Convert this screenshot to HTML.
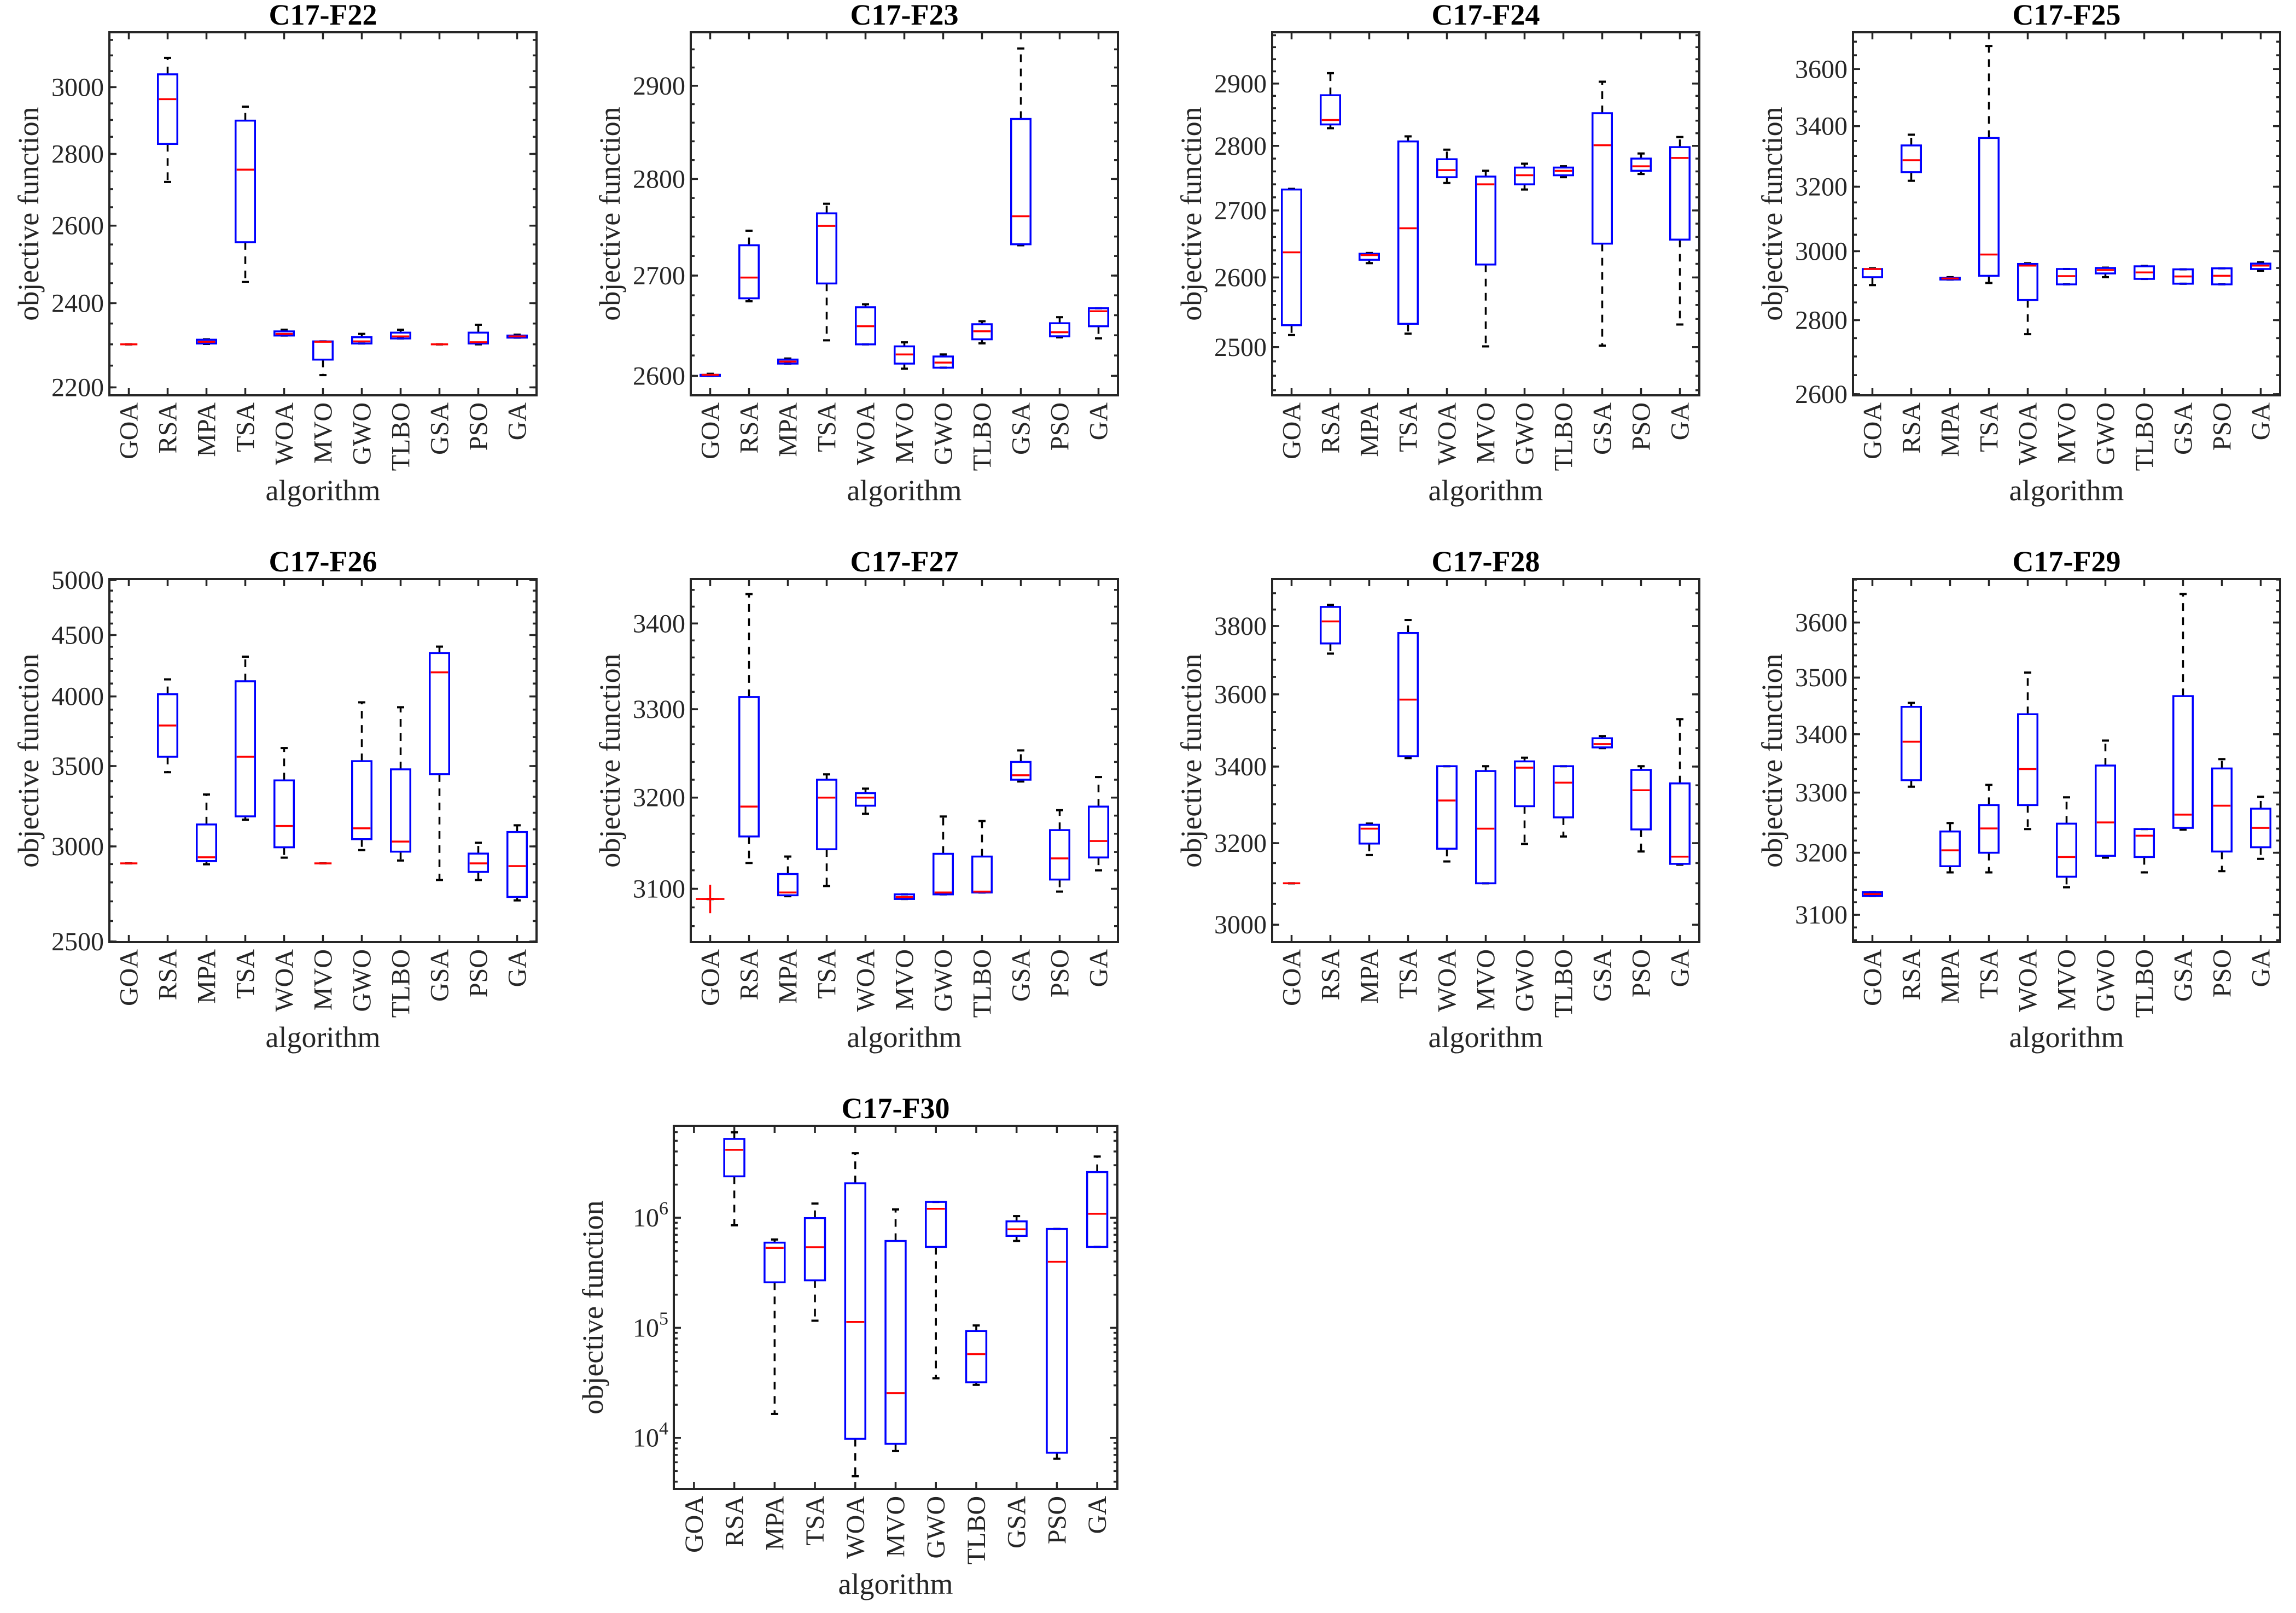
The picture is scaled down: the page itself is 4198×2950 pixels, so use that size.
<!DOCTYPE html>
<html><head><meta charset="utf-8">
<style>
html,body{margin:0;padding:0;background:#fff;}
svg{display:block;}
text{font-family:"Liberation Serif","Times New Roman",serif;}
</style></head>
<body>
<svg id="fig" xmlns="http://www.w3.org/2000/svg" width="4198" height="2950" viewBox="0 0 4198 2950"></svg>
<script>
const algorithms = ["GOA","RSA","MPA","TSA","WOA","MVO","GWO","TLBO","GSA","PSO","GA"];

const f22Min = [2300,2720,2301,2453,2321,2228,2302,2314,2300,2300,2316];
const f22Q1  = [2300,2829,2302,2556,2321,2264,2302,2314,2300,2302,2316];
const f22Med = [2300,2963,2306,2755,2325,2306,2307,2319,2300,2305,2319];
const f22Q3  = [2300,3040,2311,2898,2331,2307,2317,2328,2300,2328,2321];
const f22Max = [2300,3092,2312,2940,2335,2307,2325,2335,2300,2347,2323];
const f22Ticks = [2200,2400,2600,2800,3000];

const f23Min = [2600,2674,2612,2635,2631,2607,2608,2632,2731,2638,2637];
const f23Q1  = [2600,2677,2612,2692,2631,2612,2608,2636,2732,2639,2649];
const f23Med = [2601,2698,2614,2751,2649,2621,2613,2644,2761,2643,2664];
const f23Q3  = [2601,2731,2616,2764,2668,2629,2619,2651,2864,2652,2667];
const f23Max = [2602,2746,2617,2774,2671,2633,2621,2654,2941,2658,2667];
const f23Ticks = [2600,2700,2800,2900];

const f24Min = [2517,2828,2621,2519,2742,2501,2732,2751,2502,2756,2532];
const f24Q1  = [2531,2834,2626,2533,2751,2619,2740,2754,2650,2761,2656];
const f24Med = [2637,2841,2633,2673,2762,2740,2754,2761,2801,2768,2781];
const f24Q3  = [2732,2881,2635,2807,2779,2752,2766,2766,2852,2780,2798];
const f24Max = [2733,2917,2636,2815,2794,2761,2772,2768,2903,2788,2814];
const f24Ticks = [2500,2600,2700,2800,2900];

const f25Min = [2900,3219,2916,2906,2761,2902,2923,2918,2904,2902,2942];
const f25Q1  = [2923,3247,2916,2927,2857,2902,2934,2918,2904,2902,2947];
const f25Med = [2947,3286,2919,2990,2957,2926,2944,2937,2925,2927,2957];
const f25Q3  = [2947,3335,2921,3360,2962,2947,2950,2955,2946,2949,2963];
const f25Max = [2949,3371,2923,3684,2964,2947,2951,2956,2946,2949,2967];
const f25Ticks = [2600,2800,3000,3200,3400,3600];

const f26Min = [2904,3459,2899,3158,2936,2904,2979,2920,2813,2813,2705];
const f26Q1  = [2904,3563,2917,3178,2995,2904,3042,2970,3446,2857,2723];
const f26Med = [2904,3783,2938,3563,3120,2904,3106,3028,4189,2904,2889];
const f26Q3  = [2904,4017,3129,4118,3405,2904,3533,3478,4347,2959,3084];
const f26Max = [2904,4133,3314,4317,3623,2904,3955,3918,4401,3021,3124];
const f26Ticks = [2500,3000,3500,4000,4500,5000];

const f27Min = [3089,3128,3092,3103,3182,3089,3094,3096,3218,3097,3120];
const f27Q1  = [3089,3157,3093,3143,3191,3089,3094,3096,3220,3110,3134];
const f27Med = [3089,3190,3096,3200,3200,3091,3096,3097,3225,3133,3152];
const f27Q3  = [3089,3314,3116,3220,3205,3094,3138,3135,3240,3164,3190];
const f27Max = [3089,3435,3135,3226,3210,3094,3179,3174,3253,3186,3223];
const f27Outliers = [[0,3089]];
const f27Ticks = [3100,3200,3300,3400];

const f28Min = [3100,3718,3170,3423,3154,3100,3198,3217,3450,3179,3146];
const f28Q1  = [3100,3748,3199,3428,3186,3100,3295,3266,3452,3235,3148];
const f28Med = [3100,3814,3237,3585,3310,3237,3397,3357,3461,3337,3166];
const f28Q3  = [3100,3858,3247,3779,3401,3388,3414,3401,3477,3391,3355];
const f28Max = [3100,3864,3250,3818,3401,3401,3424,3401,3483,3401,3530];
const f28Ticks = [3000,3200,3400,3600,3800];

const f29Min = [3130,3310,3168,3168,3239,3144,3192,3168,3238,3170,3190];
const f29Q1  = [3130,3321,3178,3200,3279,3161,3195,3193,3241,3202,3209];
const f29Med = [3133,3387,3204,3240,3340,3193,3250,3228,3263,3278,3241];
const f29Q3  = [3136,3448,3235,3279,3435,3248,3346,3239,3467,3341,3273];
const f29Max = [3136,3455,3249,3313,3509,3292,3389,3239,3653,3357,3293];
const f29Ticks = [3100,3200,3300,3400,3500,3600];

const f30Min = [3440,853000,16500,116000,4480,7590,34800,30300,615000,6470,543000];
const f30Q1  = [3440,2377000,259000,270000,9800,8830,543000,32000,684000,7330,543000];
const f30Med = [3440,4140000,532000,540000,113000,25500,1205000,57700,785000,398000,1086000];
const f30Q3  = [3440,5200000,594000,993000,2056000,615000,1393000,93500,927000,791000,2600000];
const f30Max = [3440,5970000,634000,1345000,3855000,1190000,1393000,105000,1035000,791000,3597000];
const f30Ticks = [10000,100000,1000000];

const NS = "http://www.w3.org/2000/svg";
const svg = document.getElementById("fig");
function mk(tag, attrs, parent) {
  const e = document.createElementNS(NS, tag);
  for (const k in attrs) e.setAttribute(k, attrs[k]);
  (parent || svg).appendChild(e);
  return e;
}

const panels = [
  {id:"f22", title:"C17-F22", x0:200, y0:59, w:781, lo:2182, hi:3175, minor:50, ticks:f22Ticks, mn:f22Min,q1:f22Q1,md:f22Med,q3:f22Q3,mx:f22Max},
  {id:"f23", title:"C17-F23", x0:1263, y0:59, w:781, lo:2581, hi:2959, minor:20, ticks:f23Ticks, mn:f23Min,q1:f23Q1,md:f23Med,q3:f23Q3,mx:f23Max},
  {id:"f24", title:"C17-F24", x0:2326, y0:59, w:781, lo:2433, hi:2985, minor:20, ticks:f24Ticks, mn:f24Min,q1:f24Q1,md:f24Med,q3:f24Q3,mx:f24Max},
  {id:"f25", title:"C17-F25", x0:3388, y0:59, w:781, lo:2597, hi:3735, minor:50, ticks:f25Ticks, mn:f25Min,q1:f25Q1,md:f25Med,q3:f25Q3,mx:f25Max},
  {id:"f26", title:"C17-F26", x0:200, y0:1059, w:781, lo:2497, hi:5010, minor:100, ticks:f26Ticks, mn:f26Min,q1:f26Q1,md:f26Med,q3:f26Q3,mx:f26Max},
  {id:"f27", title:"C17-F27", x0:1263, y0:1059, w:781, lo:3043, hi:3453, minor:20, ticks:f27Ticks, mn:f27Min,q1:f27Q1,md:f27Med,q3:f27Q3,mx:f27Max, out:f27Outliers},
  {id:"f28", title:"C17-F28", x0:2326, y0:1059, w:781, lo:2959, hi:3944, minor:50, ticks:f28Ticks, mn:f28Min,q1:f28Q1,md:f28Med,q3:f28Q3,mx:f28Max},
  {id:"f29", title:"C17-F29", x0:3388, y0:1059, w:781, lo:3057, hi:3681, minor:20, ticks:f29Ticks, mn:f29Min,q1:f29Q1,md:f29Med,q3:f29Q3,mx:f29Max},
  {id:"f30", title:"C17-F30", x0:1232, y0:2059, w:811, lo:3440, hi:6840000, decade:true, ticks:f30Ticks, mn:f30Min,q1:f30Q1,md:f30Med,q3:f30Q3,mx:f30Max}
];

const H = 664;
const AX = "#262626";

panels.forEach(p => {
  const g = mk("g", {});
  
  
  const x0 = p.x0, y0 = p.y0, w = p.w, y1 = y0 + H, x1 = x0 + w;
  const yScale = v => y1 - (Math.log10(v) - Math.log10(p.lo)) / (Math.log10(p.hi) - Math.log10(p.lo)) * H;
  const xScale = i => x0 + (i + 0.5) * w / algorithms.length;

  let minors = [];
  if (p.decade) {
    for (let k = 3; k <= 6; k++) for (let m = 2; m <= 9; m++) minors.push(m * Math.pow(10, k));
  } else {
    const st = p.minor;
    for (let v = Math.ceil(p.lo / st) * st; v <= p.hi; v += st) minors.push(v);
  }
  minors.forEach(v => {
    if (v < p.lo || v > p.hi) return;
    const y = yScale(v);
    const t1 = mk("line", {x1:x0, x2:x0+7, y1:y, y2:y, stroke:AX, "stroke-width":3.5}, g);
    
    
    const t2 = mk("line", {x1:x1, x2:x1-7, y1:y, y2:y, stroke:AX, "stroke-width":3.5}, g);
    
    
  });

  p.ticks.forEach(v => {
    const y = yScale(v);
    const t1 = mk("line", {x1:x0, x2:x0+13, y1:y, y2:y, stroke:AX, "stroke-width":3.5}, g);
    
    
    const t2 = mk("line", {x1:x1, x2:x1-13, y1:y, y2:y, stroke:AX, "stroke-width":3.5}, g);
    
    
    const tx = mk("text", {x:x0-10, y:y+16, "text-anchor":"end", "font-size":48, fill:AX}, g);
    
    
    if (p.decade) {
      const a = mk("tspan", {}, tx); a.textContent = "10";
      const b = mk("tspan", {dy:-22, "font-size":34}, tx); b.textContent = String(Math.round(Math.log10(v)));
    } else {
      tx.textContent = String(v);
    }
  });

  algorithms.forEach((a, i) => {
    const x = xScale(i);
    const t1 = mk("line", {x1:x, x2:x, y1:y1, y2:y1-13, stroke:AX, "stroke-width":3.5}, g);
    
    
    const t2 = mk("line", {x1:x, x2:x, y1:y0, y2:y0+13, stroke:AX, "stroke-width":3.5}, g);
    
    
    const tx = mk("text", {x:0, y:0, "text-anchor":"end", "font-size":48, fill:AX,
      transform:"translate(" + (x + 16) + "," + (y1 + 13) + ") rotate(-90)"}, g);
    
    
    tx.textContent = a;
  });

  const bw = 0.5 * w / algorithms.length;
  const cw = 13;
  algorithms.forEach((a, i) => {
    const x = xScale(i);
    const yMn = yScale(p.mn[i]), yQ1 = yScale(p.q1[i]), yMd = yScale(p.md[i]), yQ3 = yScale(p.q3[i]), yMx = yScale(p.mx[i]);
    const bg = mk("g", {}, g);
    
    
    if (yQ3 - yMx > 0.5) {
      const l = mk("line", {x1:x, x2:x, y1:yQ3, y2:yMx, stroke:"#000", "stroke-width":3.5, "stroke-dasharray":"14 12"}, bg);
      
      
    }
    if (yMn - yQ1 > 0.5) {
      const l = mk("line", {x1:x, x2:x, y1:yQ1, y2:yMn, stroke:"#000", "stroke-width":3.5, "stroke-dasharray":"14 12"}, bg);
      
      
    }
    const c1 = mk("line", {x1:x-cw/2, x2:x+cw/2, y1:yMx, y2:yMx, stroke:"#000", "stroke-width":4}, bg);
    
    
    const c2 = mk("line", {x1:x-cw/2, x2:x+cw/2, y1:yMn, y2:yMn, stroke:"#000", "stroke-width":4}, bg);
    
    
    const r = mk("rect", {x:x-bw/2, y:yQ3, width:bw, height:Math.max(0, yQ1-yQ3), fill:"none", stroke:"#0000ff", "stroke-width":3.5}, bg);
    
    
    const m = mk("line", {x1:x-bw/2+2, x2:x+bw/2-2, y1:yMd, y2:yMd, stroke:"#ff0000", "stroke-width":3.5}, bg);
    
    
  });

  if (p.out) {
    p.out.forEach(o => {
      const x = xScale(o[0]), y = yScale(o[1]);
      const og = mk("g", {}, g);
      
      
      mk("line", {x1:x-26, x2:x+26, y1:y, y2:y, stroke:"#ff0000", "stroke-width":3.5}, og);
      mk("line", {x1:x, x2:x, y1:y-26, y2:y+26, stroke:"#ff0000", "stroke-width":3.5}, og);
    });
  }

  const fr = mk("rect", {x:x0, y:y0, width:w, height:H, fill:"none", stroke:AX, "stroke-width":4}, g);
  
  

  const tt = mk("text", {x:(x0+x1)/2, y:y0-14, "text-anchor":"middle", "font-size":54, "font-weight":"bold", fill:"#000"}, g);
  
  
  tt.textContent = p.title;

  const yl = mk("text", {x:0, y:0, "text-anchor":"middle", "font-size":54, fill:AX,
    transform:"translate(" + (x0 - 130) + "," + ((y0+y1)/2) + ") rotate(-90)"}, g);
  
  
  yl.textContent = "objective function";
  const xl = mk("text", {x:(x0+x1)/2, y:y1+192, "text-anchor":"middle", "font-size":54, fill:AX}, g);
  
  
  xl.textContent = "algorithm";
});
</script>
</body></html>
